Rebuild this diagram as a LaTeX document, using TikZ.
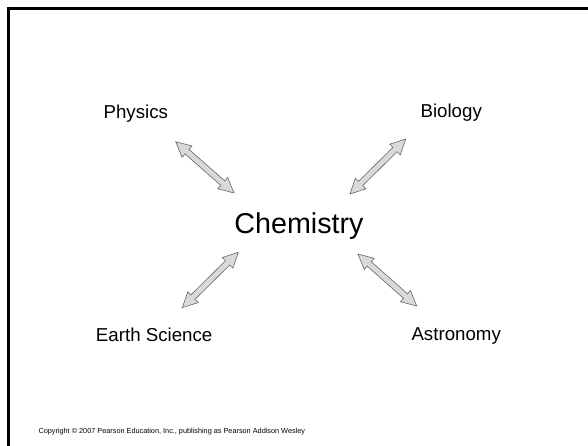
\documentclass[tikz,border=0pt]{standalone}
\usepackage{fontspec}
\setmainfont{Liberation Sans}
\usetikzlibrary{calc}
\definecolor{arrfill}{HTML}{D9D9D9}
\definecolor{arrline}{HTML}{666666}
\tikzset{
  lbl/.style={anchor=base, inner sep=0pt, font=\fontsize{18.7}{22}\selectfont},
  big/.style={anchor=base, inner sep=0pt, font=\fontsize{28.7}{34}\selectfont},
  blockarr/.style={fill=arrfill, draw=arrline, line width=0.6pt, line join=miter,
    to path={
      -- ($(\tikztostart)!15pt!(\tikztotarget)!7.5pt!90:(\tikztotarget)$)
      -- ($(\tikztostart)!15pt!(\tikztotarget)!3pt!90:(\tikztotarget)$)
      -- ($(\tikztotarget)!15pt!(\tikztostart)!3pt!-90:(\tikztostart)$)
      -- ($(\tikztotarget)!15pt!(\tikztostart)!7.5pt!-90:(\tikztostart)$)
      -- (\tikztotarget)
      -- ($(\tikztotarget)!15pt!(\tikztostart)!7.5pt!90:(\tikztostart)$)
      -- ($(\tikztotarget)!15pt!(\tikztostart)!3pt!90:(\tikztostart)$)
      -- ($(\tikztostart)!15pt!(\tikztotarget)!3pt!-90:(\tikztotarget)$)
      -- ($(\tikztostart)!15pt!(\tikztotarget)!7.5pt!-90:(\tikztotarget)$)
      -- cycle}}
}
\begin{document}
\begin{tikzpicture}[x=1pt,y=-1pt]
\useasboundingbox (0,0) rectangle (588,445);
% frame
\coordinate (fbl) at (8.5,446);
\coordinate (ftl) at (8.5,8.5);
\coordinate (ftr) at (589,8.5);
\draw[line width=2.6pt, line join=miter] (fbl) -- (ftl) -- (ftr);
% labels
\node[lbl] (phys) at (135.8,118.3) {Physics};
\node[lbl] (bio) at (451.2,117.7) {Biology};
\node[big] (chem) at (299,233.3) {Chemistry};
\node[lbl] (earth) at (154.2,341.5) {Earth Science};
\node[lbl] (astro) at (456.2,340.7) {Astronomy};
\node[anchor=base west, inner sep=0pt, font=\fontsize{7.3}{9}\selectfont] (copy) at (38.3,433.5)
  {Copyright \textcopyright{} 2007 Pearson Education, Inc., publishing as Pearson Addison Wesley};
% arrow ends
\coordinate (p1) at (175.7,141.7); \coordinate (p2) at (234,193);
\coordinate (b1) at (405.7,139);   \coordinate (b2) at (350,194);
\coordinate (e1) at (238.3,252.3); \coordinate (e2) at (182.3,307.7);
\coordinate (a1) at (358,254);     \coordinate (a2) at (416.7,306);
\draw[blockarr] (p1) to (p2);
\draw[blockarr] (b1) to (b2);
\draw[blockarr] (e1) to (e2);
\draw[blockarr] (a1) to (a2);
\end{tikzpicture}
\end{document}
